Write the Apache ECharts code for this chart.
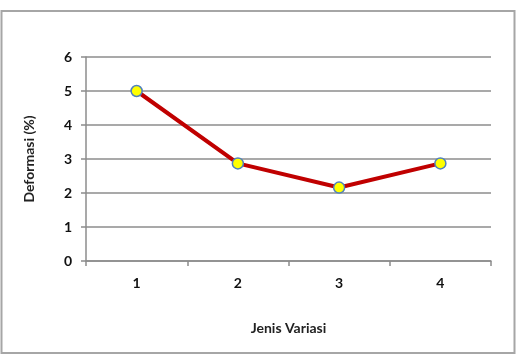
<!DOCTYPE html>
<html>
<head>
<meta charset="utf-8">
<script src="https://cdn.jsdelivr.net/npm/echarts@6/dist/echarts.min.js"></script>
<style>
  html, body { margin: 0; padding: 0; background: #fff; }
  #chart { width: 518px; height: 358px; }
</style>
</head>
<body>
<div id="chart"></div>
<script>
var categories = ['1', '2', '3', '4'];
var deformasi = [5.0, 2.87, 2.16, 2.87];
var yTicks = [0, 1, 2, 3, 4, 5, 6];

var chart = echarts.init(document.getElementById('chart'));

var option = {
    animation: false,
    backgroundColor: '#fff',
    textStyle: { fontFamily: 'Lato', fontWeight: 'bold' },
    graphic: [{
        type: 'rect',
        shape: { x: 1.5, y: 11, width: 513, height: 342 },
        style: { fill: 'none', stroke: '#a6a6a6', lineWidth: 2 },
        z: -1
    }],
    grid: { left: 86, right: 27, top: 57, bottom: 97 },
    xAxis: {
        type: 'category',
        data: categories,
        boundaryGap: true,
        name: 'Jenis Variasi',
        nameLocation: 'middle',
        nameGap: 60,
        nameTextStyle: { color: '#222', fontSize: 14, fontWeight: 'bold', fontFamily: 'Lato' },
        axisLine: { lineStyle: { color: '#8c8c8c', width: 1.5 } },
        axisTick: { show: true, length: 5, lineStyle: { color: '#8c8c8c', width: 1.5 } },
        axisLabel: { color: '#111', fontSize: 14, fontWeight: 'bold', margin: 15 }
    },
    yAxis: {
        type: 'value',
        min: yTicks[0],
        max: yTicks[yTicks.length - 1],
        interval: 1,
        name: 'Deformasi (%)',
        nameLocation: 'middle',
        nameGap: 50,
        nameRotate: 90,
        nameTextStyle: { color: '#222', fontSize: 14, fontWeight: 'bold', fontFamily: 'Lato' },
        axisLine: { show: true, lineStyle: { color: '#8c8c8c', width: 1.5 } },
        axisTick: { show: true, length: 5, lineStyle: { color: '#8c8c8c', width: 1.5 } },
        axisLabel: { color: '#111', fontSize: 14, fontWeight: 'bold', margin: 14 },
        splitLine: { show: true, lineStyle: { color: '#8c8c8c', width: 1.5 } }
    },
    series: [{
        type: 'line',
        data: deformasi,
        symbol: 'circle',
        symbolSize: 11,
        lineStyle: { color: '#c00000', width: 4 },
        itemStyle: { color: '#ffff00', borderColor: '#4f81bd', borderWidth: 1.5 },
        z: 3
    }]
};

chart.setOption(option);
</script>
</body>
</html>
